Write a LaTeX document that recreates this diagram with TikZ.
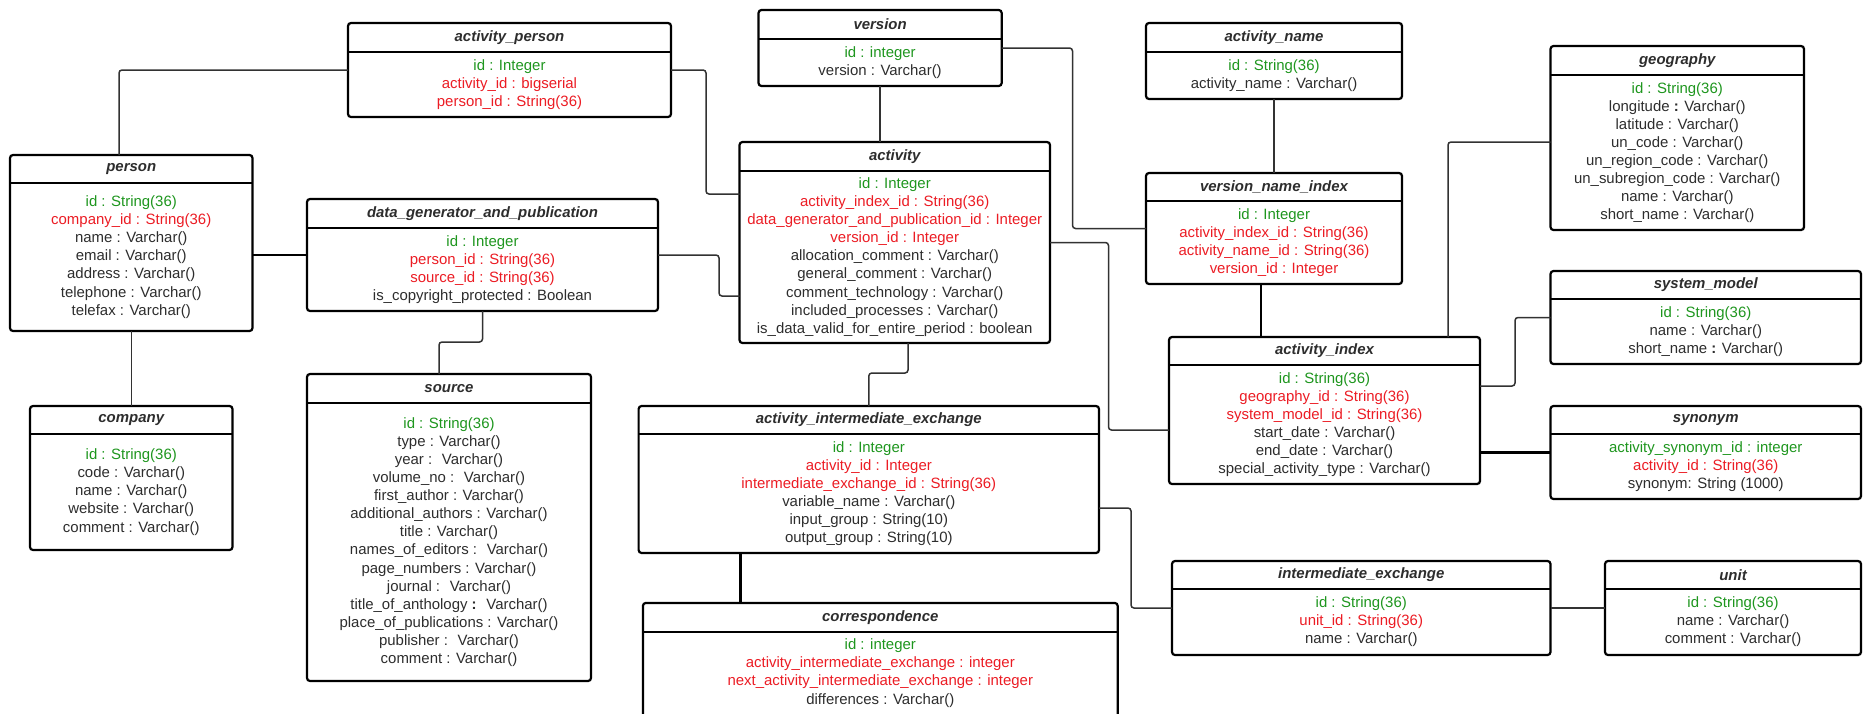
\documentclass[tikz,border=0pt]{standalone}
\usepackage{fontspec}
\setmainfont{Liberation Sans}
\usetikzlibrary{positioning}

\definecolor{pkgreen}{RGB}{30,150,30}
\definecolor{fkred}{RGB}{236,28,36}
\definecolor{bodytxt}{RGB}{45,45,45}
\definecolor{connline}{RGB}{50,50,50}

\newcommand\keyp[1]{\textcolor{pkgreen}{#1}}
\newcommand\keyf[1]{\textcolor{fkred}{#1}}

% one table: name, x1, y1, x2, y2, divider y, title, rows
\newcommand\erentity[8]{%
  \node[entity, minimum width={(#4-#2)*1pt}, minimum height={(#5-#3)*1pt}]
    (#1) at ({(#2+#4)/2},{(#3+#5)/2}) {};
  \draw[divider] (#1.west |- 0,#6) -- (#1.east |- 0,#6);
  \node[entitytitle] (#1-title) at ({(#2+#4)/2},{(#3+#6)/2}) {#7};
  \node[entityrows] (#1-rows) at ({(#2+#4)/2},{(#6+#5)/2}) {#8};
}

\tikzset{
  entity/.style={draw=black, line width=2.2pt, rounded corners=3pt,
    fill=white, inner sep=0pt, outer sep=0pt},
  divider/.style={draw=black, line width=2.2pt},
  entitytitle/.style={inner sep=0pt, text=bodytxt,
    font={\fontsize{14.95pt}{18.1pt}\selectfont\bfseries\itshape}},
  entityrows/.style={inner sep=0pt, align=center, text=bodytxt,
    font={\fontsize{14.95pt}{18.1pt}\selectfont}},
  conn/.style={draw=connline, line width=1.5pt, rounded corners=3pt},
  connthick/.style={draw=black, line width=2.4pt, rounded corners=3pt},
}

\begin{document}
\begin{tikzpicture}[x=1pt, y=-1pt]
\fill[white] (0,0) rectangle (1865,713);
\useasboundingbox (0,0) rectangle (1865,713);

% ---------- tables ----------
\erentity{actperson}{348}{23}{671}{117}{52}{activity\_person}
  {\keyp{id : Integer}\\ \keyf{activity\_id : bigserial}\\ \keyf{person\_id : String(36)}}

\erentity{version}{758.5}{10}{1001.7}{86}{39}{version}
  {\keyp{id : integer}\\ version : Varchar()}

\erentity{actname}{1146}{23}{1402}{99}{52}{activity\_name}
  {\keyp{id : String(36)}\\ activity\_name : Varchar()}

\erentity{geography}{1550.5}{46}{1804}{230}{75}{geography}
  {\keyp{id : String(36)}\\ longitude \textbf{:} Varchar()\\ latitude : Varchar()\\
   un\_code : Varchar()\\ un\_region\_code : Varchar()\\ un\_subregion\_code : Varchar()\\
   name : Varchar()\\ short\_name : Varchar()}

\erentity{person}{10}{155}{252.5}{331}{183}{person}
  {\keyp{id : String(36)}\\ \keyf{company\_id : String(36)}\\ name : Varchar()\\
   email : Varchar()\\ address : Varchar()\\ telephone : Varchar()\\ telefax : Varchar()}

\erentity{activity}{739.5}{142}{1050}{343}{171}{activity}
  {\keyp{id : Integer}\\ \keyf{activity\_index\_id : String(36)}\\
   \keyf{data\_generator\_and\_publication\_id : Integer}\\ \keyf{version\_id : Integer}\\
   allocation\_comment : Varchar()\\ general\_comment : Varchar()\\
   comment\_technology : Varchar()\\ included\_processes : Varchar()\\
   is\_data\_valid\_for\_entire\_period : boolean}

\erentity{dgp}{307}{199}{658}{311}{228}{data\_generator\_and\_publication}
  {\keyp{id : Integer}\\ \keyf{person\_id : String(36)}\\ \keyf{source\_id : String(36)}\\
   is\_copyright\_protected : Boolean}

\erentity{vni}{1146}{173}{1402}{284}{201}{version\_name\_index}
  {\keyp{id : Integer}\\ \keyf{activity\_index\_id : String(36)}\\
   \keyf{activity\_name\_id : String(36)}\\ \keyf{version\_id : Integer}}

\erentity{sysmodel}{1550.5}{271}{1861}{364}{299}{system\_model}
  {\keyp{id : String(36)}\\ name : Varchar()\\ short\_name \textbf{:} Varchar()}

\erentity{actindex}{1169}{337}{1480}{484}{365}{activity\_index}
  {\keyp{id : String(36)}\\ \keyf{geography\_id : String(36)}\\
   \keyf{system\_model\_id : String(36)}\\ start\_date : Varchar()\\
   end\_date : Varchar()\\ special\_activity\_type : Varchar()}

\erentity{synonym}{1550.5}{406}{1861}{499}{434}{synonym}
  {\keyp{activity\_synonym\_id : integer}\\ \keyf{activity\_id : String(36)}\\
   synonym: String (1000)}

\erentity{company}{30}{406}{232.5}{550}{434}{company}
  {\keyp{id : String(36)}\\ code : Varchar()\\ name : Varchar()\\
   website : Varchar()\\ comment : Varchar()}

\erentity{source}{307}{374}{591}{681}{403}{source}
  {\keyp{id : String(36)}\\ type : Varchar()\\ year :~ Varchar()\\
   volume\_no :~ Varchar()\\ first\_author : Varchar()\\
   additional\_authors : Varchar()\\ title : Varchar()\\
   names\_of\_editors :~ Varchar()\\ page\_numbers : Varchar()\\
   journal :~ Varchar()\\ title\_of\_anthology \textbf{:}~ Varchar()\\
   place\_of\_publications : Varchar()\\ publisher :~ Varchar()\\
   comment : Varchar()}

\erentity{aie}{638.6}{406}{1099}{553}{434}{activity\_intermediate\_exchange}
  {\keyp{id : Integer}\\ \keyf{activity\_id : Integer}\\
   \keyf{intermediate\_exchange\_id : String(36)}\\ variable\_name : Varchar()\\
   input\_group : String(10)\\ output\_group : String(10)}

\erentity{iexch}{1172}{561}{1550.5}{655}{589}{intermediate\_exchange}
  {\keyp{id : String(36)}\\ \keyf{unit\_id : String(36)}\\ name : Varchar()}

\erentity{unit}{1605}{561}{1861}{655}{589}{unit}
  {\keyp{id : String(36)}\\ name : Varchar()\\ comment : Varchar()}

% correspondence runs past the lower edge, so its frame stays open there
\node[inner sep=0pt, outer sep=1.1pt, minimum width=472.6pt, minimum height=109pt]
  (corr) at (880.3,658.5) {};
\draw[draw=black, line width=2.2pt, rounded corners=3pt]
  (corr.south west) -- (corr.north west) -- (corr.north east) -- (corr.south east);
\draw[divider] (corr.west |- 0,632) -- (corr.east |- 0,632);
\node[entitytitle] (corr-title) at (880.3,618) {correspondence};
\node[entityrows] (corr-rows) at (880.3,673) {\keyp{id : integer}\\
  \keyf{activity\_intermediate\_exchange : integer}\\
  \keyf{next\_activity\_intermediate\_exchange : integer}\\
  differences : Varchar()};

% ---------- relations ----------
\draw[conn] (person.north -| 119,0) |- (actperson.west);
\draw[conn] (actperson.east) -- ++(35,0) |- (activity.west |- 0,194);
\draw[conn] (version.south) -- (version.south |- activity.north);
\draw[conn] (version.east) -- ++(70.8,0) |- (vni.west);
\draw[conn] (actname.south) -- (vni.north);
\draw[connthick] (vni.south -| 1261,0) -- (actindex.north -| 1261,0);
\draw[conn] (geography.west |- 0,142) -| (actindex.north -| 1448,0);
\draw[conn] (sysmodel.west) -- ++(-35.5,0) |- (actindex.east |- 0,386);
\draw[connthick] (actindex.east |- synonym.west) -- (synonym.west);
\draw[conn] (activity.east) -- ++(58.5,0) |- (actindex.west |- 0,430);
\draw[connthick] (person.east |- dgp.west) -- (dgp.west);
\draw[conn] (dgp.east) -- ++(61,0) |- (activity.west |- 0,296);
\draw[conn] (dgp.south) -- ++(0,31) -| (source.north -| 439,0);
\draw[conn] (person.south) -- (company.north);
\draw[conn] (activity.south -| 908,0) -- ++(0,30) -| (aie.north);
\draw[connthick] (aie.south -| 740.6,0) -- (corr.north -| 740.6,0);
\draw[conn] (aie.east |- 0,508) -- ++(32,0) |- (iexch.west);
\draw[conn] (iexch.east) -- (unit.west);
\end{tikzpicture}
\end{document}
